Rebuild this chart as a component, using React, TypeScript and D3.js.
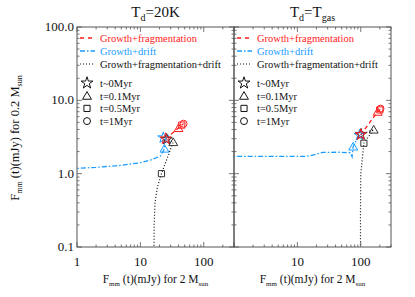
import React from "react";
import * as d3 from "d3";

type Pt = [number, number];

// Left panel (Td = 20K)
const redL: Pt[] = [[25, 3.0], [40, 4.2], [45, 4.6], [48, 4.8]];
const blueL: Pt[] = [[24, 3.0], [24, 2.2], [21, 1.75], [15, 1.55], [10, 1.41], [5, 1.3], [2, 1.22], [1, 1.18]];
const blackL: Pt[] = [[25, 3.0], [33, 2.7], [21.5, 1.0], [18.5, 0.65], [17, 0.4], [16.5, 0.2], [16.4, 0.1]];
const redLMarks: Pt[] = [[25, 3.0], [40, 4.2], [45, 4.6], [48, 4.8]];
const blueLMarks: Pt[] = [[23, 3.1], [24, 2.2]];
const blackLMarks: Pt[] = [[26, 2.95], [33, 2.7], [21.5, 1.0]];

// Right panel (Td = Tgas)
const redR: Pt[] = [[100, 3.4], [185, 7.0], [200, 7.4], [205, 7.7]];
const blueR: Pt[] = [[97, 3.35], [80, 2.6], [76, 2.35], [73, 1.7], [68, 1.93], [45, 1.96], [25, 1.95], [18, 1.8], [13.8, 1.72], [1, 1.72]];
const blackR: Pt[] = [[100, 3.4], [160, 4.0], [112, 2.6], [100, 1.0], [99, 0.3], [99, 0.1]];
const redRMarks: Pt[] = [[100, 3.4], [185, 7.0], [200, 7.4], [205, 7.7]];
const blueRMarks: Pt[] = [[96, 3.35], [76, 2.35]];
const blackRMarks: Pt[] = [[101, 3.45], [160, 4.0], [112, 2.6]];

const seriesNames = ["Growth+fragmentation", "Growth+drift", "Growth+fragmentation+drift"];
const timeLabels = ["t~0Myr", "t=0.1Myr", "t=0.5Myr", "t=1Myr"];
const yTickLabels = ["0.1", "1.0", "10.0", "100.0"];
const yTickValues = [0.1, 1, 10, 100];

const RED = "#ff1a1a";
const BLUE = "#1a9cff";
const BLACK = "#111";
const AXIS = "#555";
const FONT = "Liberation Serif";

const markerTypes = [d3.symbolStar, d3.symbolTriangle, d3.symbolSquare, d3.symbolCircle];
const markerSizes = [38, 34, 38, 38];

const y = d3.scaleLog().domain([0.1, 100]).range([247, 27]);
const xL = d3.scaleLog().domain([1, 300]).range([77, 234]);
const xR = d3.scaleLog().domain([1, 300]).range([234, 391]);

function Panel({ x, id, red, blue, black, redM, blueM, blackM, title, sub, showY, xLabels }: any) {
  const [x0, x1] = x.range();
  const [y1, y0] = y.range();
  const line = d3.line<Pt>().x(d => x(d[0])).y(d => y(d[1]));
  const xt = x.ticks();
  const yt = y.ticks();
  const major = (v: number) => Math.abs(Math.log10(v) - Math.round(Math.log10(v))) < 1e-6;
  const marks = (pts: Pt[], color: string) =>
    pts.map((p, i) => (
      <path key={i} d={d3.symbol().type(markerTypes[i]).size(markerSizes[i])() as string}
        transform={`translate(${x(p[0])},${y(p[1])})${i === 1 ? " translate(0,1)" : ""}`}
        fill="none" stroke={color} strokeWidth={1} />
    ));
  const lx = x0 + 3;
  return (
    <g>
      <defs>
        <clipPath id={id}><rect x={x0} y={y0} width={x1 - x0} height={y1 - y0} /></clipPath>
      </defs>
      <g clipPath={`url(#${id})`}>
        <path d={line(blue) as string} fill="none" stroke={BLUE} strokeWidth={1.3} strokeDasharray="5,2,1.5,2" />
        <path d={line(black) as string} fill="none" stroke={BLACK} strokeWidth={1.2} strokeDasharray="1,2" />
        <path d={line(red) as string} fill="none" stroke={RED} strokeWidth={1.3} strokeDasharray="4,3" />
        {marks(blueM, BLUE)}
        {marks(blackM, "#333")}
        {marks(redM, RED)}
      </g>
      <rect x={x0} y={y0} width={x1 - x0} height={y1 - y0} fill="none" stroke={AXIS} strokeWidth={1} />
      {xt.map((v: number, i: number) => {
        const L = major(v) ? 5 : 2.5;
        const px = x(v);
        return (
          <g key={"x" + i} stroke={AXIS} strokeWidth={0.8}>
            <line x1={px} x2={px} y1={y1} y2={y1 - L} />
            <line x1={px} x2={px} y1={y0} y2={y0 + L} />
          </g>
        );
      })}
      {yt.map((v: number, i: number) => {
        const L = major(v) ? 5 : 2.5;
        const py = y(v);
        return (
          <g key={"y" + i} stroke={AXIS} strokeWidth={0.8}>
            <line x1={x0} x2={x0 + L} y1={py} y2={py} />
            <line x1={x1} x2={x1 - L} y1={py} y2={py} />
          </g>
        );
      })}
      {xLabels.map((v: number) => (
        <text key={"xl" + v} x={x(v)} y={266} textAnchor="middle" fontSize={13} fontFamily={FONT} fill="#111">{String(v)}</text>
      ))}
      {showY && yTickValues.map((v, i) => (
        <text key={"yl" + i} x={x0 - 3} y={y(v) + 4} textAnchor="end" fontSize={13} fontFamily={FONT} fill="#111">{yTickLabels[i]}</text>
      ))}
      <text x={(x0 + x1) / 2} y={283} textAnchor="middle" fontSize={11.5} fontFamily={FONT} fill="#111">
        F<tspan fontSize={7} dy={3}>mm</tspan><tspan dy={-3}> (t)(mJy) for 2 M</tspan><tspan fontSize={7} dy={3}>sun</tspan>
      </text>
      <text x={(x0 + x1) / 2} y={17} textAnchor="middle" fontSize={15} fontFamily={FONT} fill="#111">
        T<tspan fontSize={10} dy={4}>d</tspan><tspan dy={-4}>{title}</tspan>
        {sub ? <tspan fontSize={10} dy={4}>{sub}</tspan> : null}
      </text>
      {/* legend */}
      <g fontFamily={FONT} fontSize={10.5}>
        <line x1={lx} x2={lx + 15} y1={38} y2={38} stroke={RED} strokeWidth={1.3} strokeDasharray="4,4" />
        <text x={lx + 20} y={41.5} fill={RED}>{seriesNames[0]}</text>
        <line x1={lx} x2={lx + 15} y1={51} y2={51} stroke={BLUE} strokeWidth={1.3} strokeDasharray="5,2,1.5,2" />
        <text x={lx + 20} y={54.5} fill={BLUE}>{seriesNames[1]}</text>
        <line x1={lx} x2={lx + 15} y1={64} y2={64} stroke={BLACK} strokeWidth={1.2} strokeDasharray="1,2" />
        <text x={lx + 20} y={67.5} fill="#111">{seriesNames[2]}</text>
        {timeLabels.map((t, i) => (
          <g key={t}>
            <path d={d3.symbol().type(markerTypes[i]).size(markerSizes[i] + (i === 0 ? 6 : 0))() as string}
              transform={`translate(${lx + 7},${83 + i * 12.7 + (i === 1 ? 1 : 0)})`} fill="none" stroke="#111" strokeWidth={1} />
            <text x={lx + 20} y={87 + i * 12.7} fill="#111">{t}</text>
          </g>
        ))}
      </g>
    </g>
  );
}

export default function App() {
  return (
    <svg width={415} height={297} style={{ display: "block", position: "absolute", left: 0, top: 0, background: "#fff" }}>
      <rect width={415} height={297} fill="#fff" />
      <Panel x={xL} id="cl" red={redL} blue={blueL} black={blackL} redM={redLMarks} blueM={blueLMarks} blackM={blackLMarks}
        title="=20K" sub="" showY={true} xLabels={[1, 10, 100]} />
      <Panel x={xR} id="cr" red={redR} blue={blueR} black={blackR} redM={redRMarks} blueM={blueRMarks} blackM={blackRMarks}
        title="=T" sub="gas" showY={false} xLabels={[10, 100]} />
      <text transform="translate(19,138) rotate(-90)" textAnchor="middle" fontSize={12.5} fontFamily={FONT} fill="#111">
        F<tspan fontSize={8} dy={3}>mm</tspan><tspan dy={-3}> (t)(mJy) for 0.2 M</tspan><tspan fontSize={8} dy={3}>sun</tspan>
      </text>
    </svg>
  );
}
